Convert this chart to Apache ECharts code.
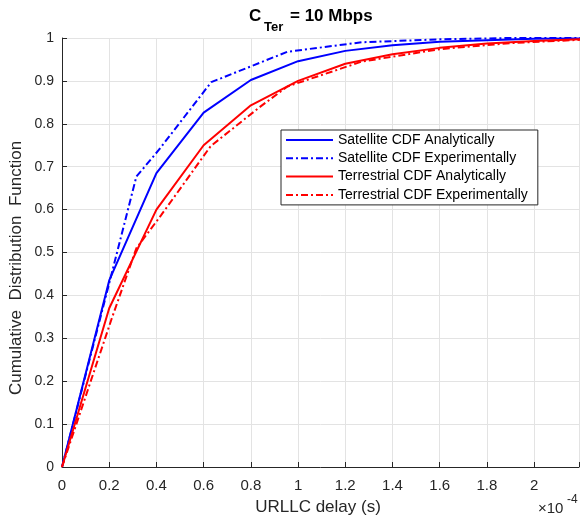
<!DOCTYPE html>
<html><head><meta charset="utf-8">
<script src="https://cdn.jsdelivr.net/npm/echarts@6/dist/echarts.min.js"></script>
<style>html,body{margin:0;padding:0;background:#fff}#c{width:582px;height:517px}</style>
</head><body><div id="c"></div>
<script>
// Data (x in units of 1e-4 s)
const satAnaX = [0, 0.2, 0.4, 0.6, 0.8, 1.0, 1.2, 1.4, 1.6, 1.8, 2.0, 2.2];
const satAnaY = [0, 0.435, 0.685, 0.826, 0.902, 0.946, 0.970, 0.983, 0.991, 0.995, 0.998, 0.999];
const satExpX = [0, 0.21, 0.315, 0.41, 0.632, 0.955, 1.27, 1.6, 1.9, 2.2];
const satExpY = [0, 0.45, 0.677, 0.739, 0.897, 0.968, 0.99, 0.997, 1.0, 1.0];
const terAnaX = [0, 0.2, 0.4, 0.6, 0.8, 1.0, 1.2, 1.4, 1.6, 1.8, 2.0, 2.2];
const terAnaY = [0, 0.37, 0.6, 0.75, 0.843, 0.9, 0.94, 0.962, 0.977, 0.987, 0.993, 0.997];
const terExpX = [0, 0.21, 0.315, 0.42, 0.63, 0.84, 0.955, 1.27, 1.6, 1.9, 2.2];
const terExpY = [0, 0.345, 0.51, 0.587, 0.748, 0.84, 0.887, 0.945, 0.974, 0.988, 0.996];
const names = ['Satellite CDF Analytically', 'Satellite CDF Experimentally', 'Terrestrial CDF Analytically', 'Terrestrial CDF Experimentally'];
const xTicks = [0, 0.2, 0.4, 0.6, 0.8, 1, 1.2, 1.4, 1.6, 1.8, 2];

const zip = (xs, ys) => xs.map((x, i) => [x, ys[i]]);
const FONT = 'Liberation Sans, Arial, Helvetica, sans-serif';
const AX = '#262626';
const dashDot = [7, 3, 2, 3];

const chart = echarts.init(document.getElementById('c'), null, {renderer: 'canvas'});
function mk(name, data, color, dashed) {
  return {
    name, type: 'line', data, symbol: 'none', showSymbol: false, animation: false,
    clip: true,
    lineStyle: {color, width: 2, type: dashed ? dashDot : 'solid'},
    itemStyle: {color}
  };
}
chart.setOption({
  animation: false,
  grid: {left: 62, top: 38, right: 0, bottom: 50, containLabel: false},
  xAxis: {
    type: 'value', min: 0, max: 2.19, interval: 0.2,
    axisLine: {show: true, lineStyle: {color: AX, width: 1}},
    axisTick: {show: true, inside: true, length: 5, lineStyle: {color: AX}},
    axisLabel: {color: AX, fontSize: 15, fontFamily: FONT, margin: 11,
      formatter: v => (xTicks.some(t => Math.abs(t - v) < 1e-6) ? String(+v.toFixed(1)) : '')},
    splitLine: {show: true, lineStyle: {color: '#e3e3e3', width: 1}}
  },
  yAxis: {
    type: 'value', min: 0, max: 1, interval: 0.1,
    axisLine: {show: true, lineStyle: {color: AX, width: 1}},
    axisTick: {show: true, inside: true, length: 5, lineStyle: {color: AX}},
    axisLabel: {color: AX, fontSize: 14, fontFamily: FONT, margin: 8,
      formatter: v => String(+v.toFixed(1))},
    splitLine: {show: true, lineStyle: {color: '#e3e3e3', width: 1}}
  },
  legend: {
    show: true, orient: 'vertical', left: 281, top: 130,
    data: names,
    itemWidth: 47, itemHeight: 14, itemGap: 4.3,
    padding: [3, 10, 3, 4],
    backgroundColor: '#fff', borderColor: AX, borderWidth: 1, borderRadius: 0,
    textStyle: {color: '#000', fontSize: 14, fontFamily: FONT},
    itemStyle: {opacity: 0}
  },
  series: [
    mk(names[0], zip(satAnaX, satAnaY), '#0000ff', false),
    mk(names[1], zip(satExpX, satExpY), '#0000ff', true),
    mk(names[2], zip(terAnaX, terAnaY), '#ff0000', false),
    mk(names[3], zip(terExpX, terExpY), '#ff0000', true)
  ],
  graphic: [
    {type: 'text', left: 249, top: 8, style: {text: 'C', font: 'bold 17px ' + FONT, fill: '#000'}},
    {type: 'text', left: 264, top: 21, style: {text: 'Ter', font: 'bold 13px ' + FONT, fill: '#000'}},
    {type: 'text', left: 290, top: 8, style: {text: '= 10 Mbps', font: 'bold 17px ' + FONT, fill: '#000'}},
    {type: 'text', x: 16, y: 268, rotation: Math.PI / 2,
      style: {text: 'Cumulative  Distribution  Function', font: '17px ' + FONT, fill: AX, align: 'center', verticalAlign: 'middle'}},
    {type: 'text', x: 318, y: 507,
      style: {text: 'URLLC delay (s)', font: '17px ' + FONT, fill: AX, align: 'center', verticalAlign: 'middle'}},
    {type: 'text', x: 538, y: 509,
      style: {text: '×10', font: '15px ' + FONT, fill: AX, align: 'left', verticalAlign: 'middle'}},
    {type: 'text', x: 567, y: 500,
      style: {text: '-4', font: '12px ' + FONT, fill: AX, align: 'left', verticalAlign: 'middle'}}
  ]
});
</script></body></html>
